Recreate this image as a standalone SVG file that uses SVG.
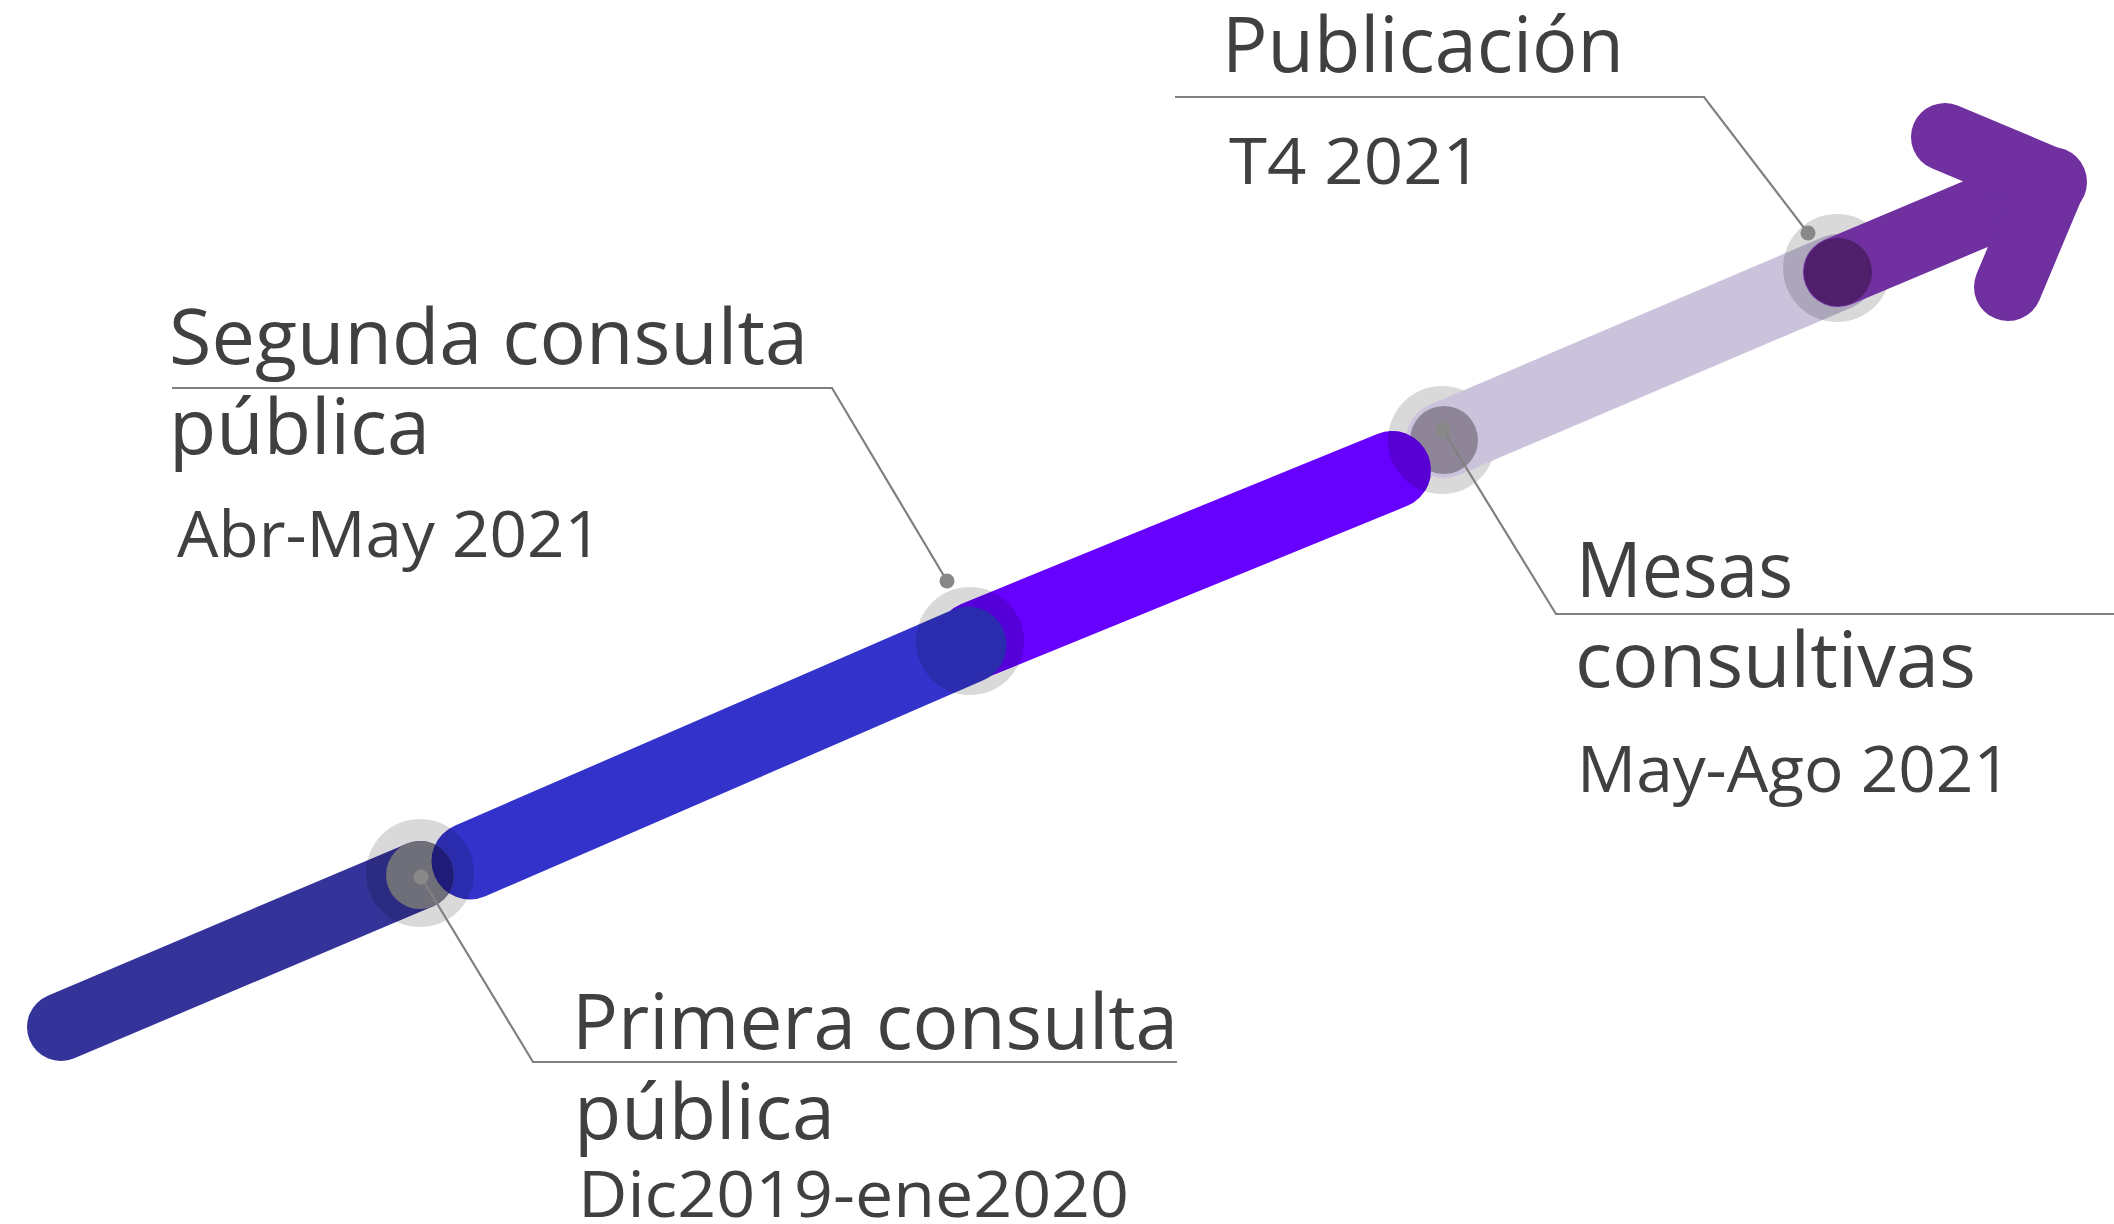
<svg xmlns="http://www.w3.org/2000/svg" width="2114" height="1224" viewBox="0 0 2114 1224">
<style>
.tube{fill:none;stroke-linecap:round;stroke-linejoin:round}
.ring{fill:#000;fill-opacity:0.15}
.lead{fill:none;stroke:#808080;stroke-width:2.2;stroke-linejoin:miter}
.dot{fill:#888888}
.t{font-family:"Open Sans","Liberation Sans",sans-serif;fill:#404040}
.h{font-size:77px}
.s{font-size:64px}
</style>
<defs>
<clipPath id="clipInner1"><circle cx="420" cy="875" r="34"/></clipPath>
<clipPath id="clipRing3"><circle cx="1442" cy="440" r="54"/></clipPath>
</defs>
<rect width="2114" height="1224" fill="#ffffff"/>

<g id="timeline">
  <line class="tube" x1="61" y1="1027" x2="420" y2="875" stroke="#343399" stroke-width="68"/>
  <line class="tube" x1="976" y1="640" x2="1392" y2="470" stroke="#6600ff" stroke-width="78"/>
  <line class="tube" x1="470" y1="861" x2="968" y2="645" stroke="#3333cc" stroke-width="77"/>
</g>

<g id="node-primera">
  <circle class="ring" cx="420" cy="873" r="54"/>
  <circle cx="420" cy="875" r="34" fill="#6f6f79"/>
  <line class="tube" x1="470" y1="861" x2="968" y2="645" stroke="#1e1c78" stroke-width="77" clip-path="url(#clipInner1)"/>
</g>

<g id="node-segunda">
  <circle class="ring" cx="970" cy="641" r="54"/>
</g>

<g id="node-mesas">
  <circle class="ring" cx="1442" cy="440" r="54"/>
  <line class="tube" x1="1444" y1="440" x2="1838" y2="272" stroke="#cbc3dc" stroke-width="76"/>
  <circle cx="1444" cy="440" r="34" fill="#8e8698"/>
  <circle cx="1392" cy="470" r="39" fill="#5800d4" clip-path="url(#clipRing3)"/>
</g>

<g id="node-publicacion">
  <circle class="ring" cx="1837" cy="268" r="54"/>
  <line class="tube" x1="1838" y1="272" x2="2052" y2="182" stroke="#7030a0" stroke-width="70"/>
  <path class="tube" d="M1945,137 L2052,182 L2008,287" stroke="#7030a0" stroke-width="68"/>
  <circle cx="1838" cy="272" r="34" fill="#4f1f6c"/>
</g>

<g id="connectors">
  <polyline class="lead" points="421,877 533,1062 1177,1062"/>
  <polyline class="lead" points="947,581 832,388 172,388"/>
  <polyline class="lead" points="1443,430 1556,614 2114,614"/>
  <polyline class="lead" points="1808,233 1704,97 1175,97"/>
  <circle class="dot" cx="421" cy="877" r="7.5"/>
  <circle class="dot" cx="947" cy="581" r="7.5"/>
  <circle class="dot" cx="1443" cy="430" r="7.5"/>
  <circle class="dot" cx="1808" cy="233" r="7.5"/>
</g>

<g id="labels">
  <text class="t h" x="1222" y="72" textLength="402" lengthAdjust="spacingAndGlyphs">Publicación</text>
  <text class="t s" x="1229" y="184" textLength="253" lengthAdjust="spacingAndGlyphs">T4 2021</text>
  <text class="t h" x="169" y="364" textLength="639" lengthAdjust="spacingAndGlyphs">Segunda consulta</text>
  <text class="t h" x="169" y="454" textLength="261" lengthAdjust="spacingAndGlyphs">pública</text>
  <text class="t s" x="177" y="557" textLength="425" lengthAdjust="spacingAndGlyphs">Abr-May 2021</text>
  <text class="t h" x="1576" y="597" textLength="217" lengthAdjust="spacingAndGlyphs">Mesas</text>
  <text class="t h" x="1575" y="687" textLength="401" lengthAdjust="spacingAndGlyphs">consultivas</text>
  <text class="t s" x="1577" y="792" textLength="434" lengthAdjust="spacingAndGlyphs">May-Ago 2021</text>
  <text class="t h" x="572" y="1049" textLength="606" lengthAdjust="spacingAndGlyphs">Primera consulta</text>
  <text class="t h" x="574" y="1139" textLength="261" lengthAdjust="spacingAndGlyphs">pública</text>
  <text class="t s" x="578" y="1217" textLength="551" lengthAdjust="spacingAndGlyphs">Dic2019-ene2020</text>
</g>
</svg>
